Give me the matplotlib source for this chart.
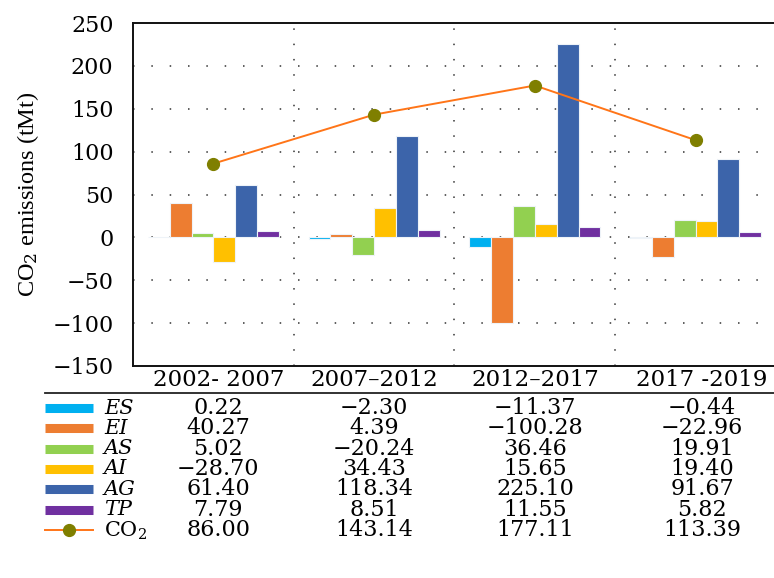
import matplotlib
matplotlib.use("Agg")
import matplotlib.pyplot as plt
import numpy as np

# ----------------------------------------------------------------------
#  DATA
# ----------------------------------------------------------------------
periods = ["2002- 2007", "2007\u20132012", "2012\u20132017", "2017 -2019"]
factors = ["ES", "EI", "AS", "AI", "AG", "TP"]
ES = [0.22, -2.30, -11.37, -0.44]
EI = [40.27, 4.39, -100.28, -22.96]
AS = [5.02, -20.24, 36.46, 19.91]
AI = [-28.70, 34.43, 15.65, 19.40]
AG = [61.40, 118.34, 225.10, 91.67]
TP = [7.79, 8.51, 11.55, 5.82]
CO2 = [86.00, 143.14, 177.11, 113.39]
y_ticks = [-150, -100, -50, 0, 50, 100, 150, 200, 250]

# ----------------------------------------------------------------------
#  STYLE
# ----------------------------------------------------------------------
bar_colors = ["#00B0F0", "#ED7D31", "#92D050", "#FFC000", "#3C64AA", "#7030A0"]
line_color = "#FF7518"
marker_color = "#7F7F00"
grid_color = "#333333"
plt.rcParams["font.family"] = ["DejaVu Serif"]
plt.rcParams["mathtext.fontset"] = "dejavuserif"

W, H = 774, 578
fig = plt.figure(figsize=(W / 100, H / 100), dpi=100)

# main axes in pixel box
ax_l, ax_r, ax_t, ax_b = 133, 776, 23, 366
ax = fig.add_axes([ax_l / W, 1 - ax_b / H, (ax_r - ax_l) / W, (ax_b - ax_t) / H])

series = [ES, EI, AS, AI, AG, TP]
x = np.arange(len(periods))
bw = 0.136
for k, vals in enumerate(series):
    offs = (k - 2.5) * bw
    ax.bar(x + offs, vals, width=bw, color=bar_colors[k],
           edgecolor="#EEF3F8", linewidth=0.8, zorder=3)

ax.plot(x, CO2, color=line_color, linewidth=1.4, zorder=4)
ax.plot(x, CO2, linestyle="none", marker="o", markersize=8.5,
        color=marker_color, zorder=5)

ax.set_xlim(-0.5, 3.5)
ax.set_ylim(-150, 250)
ax.set_yticks(y_ticks)
ax.set_yticklabels([str(v).replace("-", "\u2212") for v in y_ticks], fontsize=16)
ax.tick_params(axis="y", length=0, pad=14)
ax.set_xticks([])

for v in y_ticks[1:-1]:
    ax.axhline(v, color=grid_color, linewidth=1.1, linestyle=(0, (1, 11)), zorder=1)
for xv in [0.5, 1.5, 2.5]:
    ax.axvline(xv, color=grid_color, linewidth=1.1, linestyle=(0, (1, 9)), zorder=1)

ax.spines["right"].set_visible(False)
for s in ["left", "top", "bottom"]:
    ax.spines[s].set_linewidth(1.4)
    ax.spines[s].set_color("#111111")

ax.set_ylabel("CO$_2$ emissions (tMt)", fontsize=17.5, labelpad=8,
              family="Liberation Serif")

# ----------------------------------------------------------------------
#  TABLE (shares the x scale of the bar chart)
# ----------------------------------------------------------------------
tab = fig.add_axes([0, 0, 1, 1 - ax_b / H])
px_per_unit = (ax_r - ax_l) / 4.0
tab.set_xlim(-0.5 - ax_l / px_per_unit, -0.5 + (W - ax_l) / px_per_unit)
tab.set_ylim(H, ax_b)
tab.axis("off")

col_x = x + np.array([0.03, 0.0, 0.0, 0.04])
for i, p in enumerate(periods):
    tab.text(col_x[i], 380, p, ha="center", va="center", fontsize=16.5)

x_sw0 = -0.5 - (ax_l - 45) / px_per_unit
x_sw1 = -0.5 - (ax_l - 93) / px_per_unit
x_lab = -0.5 - (ax_l - 104) / px_per_unit
tab.plot([x_sw0, 3.6], [393, 393], color="#222222", linewidth=1.3, clip_on=False)

row_y = 408 + 20.3 * np.arange(7)
for k, name in enumerate(factors):
    tab.plot([x_sw0, x_sw1], [row_y[k], row_y[k]], color=bar_colors[k],
             linewidth=6.5, solid_capstyle="butt")
    tab.text(x_lab, row_y[k], name, ha="left", va="center", fontsize=15,
             style="italic")
    for i, v in enumerate(series[k]):
        tab.text(col_x[i], row_y[k], f"{v:.2f}".replace("-", "\u2212"),
                 ha="center", va="center", fontsize=16)

tab.plot([x_sw0, x_sw1], [row_y[6], row_y[6]], color=line_color, linewidth=1.4)
tab.plot([(x_sw0 + x_sw1) / 2], [row_y[6]], marker="o", markersize=8.5,
         color=marker_color, linestyle="none")
tab.text(x_lab, row_y[6] + 1, "CO$_2$", ha="left", va="center", fontsize=15)
for i, v in enumerate(CO2):
    tab.text(col_x[i], row_y[6], f"{v:.2f}", ha="center", va="center",
             fontsize=16)

fig.savefig("out.png", dpi=100)
